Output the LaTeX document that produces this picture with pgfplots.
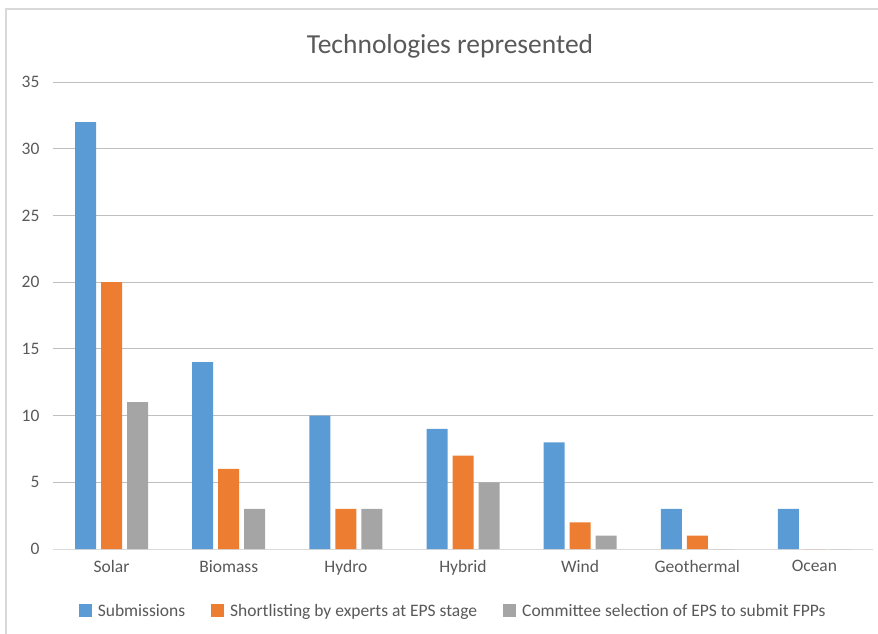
\documentclass[border=0pt]{standalone}
\usepackage{pgfplots}
\pgfplotsset{compat=1.18}
\usepackage{fontspec}
\setmainfont{Carlito}
\definecolor{cblue}{HTML}{5B9BD5}
\definecolor{corange}{HTML}{ED7D31}
\definecolor{cgray}{HTML}{A5A5A5}
\definecolor{grid}{HTML}{D9D9D9}
\definecolor{txt}{HTML}{595959}
\begin{document}
\begin{tikzpicture}
\path[use as bounding box] (-53pt,-84pt) rectangle (825pt,549pt);
\draw[grid, line width=1.2pt] (-47pt,-90pt) -- (-47pt,540pt) -- (830pt,540pt);
\begin{axis}[
    at={(0pt,0pt)}, anchor=south west,
    scale only axis,
    width=820pt, height=467pt,
    ybar=5pt,
    bar width=21pt,
    xmin=-0.5, xmax=6.5,
    ymin=0, ymax=35,
    ytick={0,5,...,35},
    xtick=data,
    xticklabels={Solar,Biomass,Hydro,Hybrid,Wind,Geothermal,Ocean},
    axis x line*=bottom,
    axis y line*=left,
    y axis line style={draw=none},
    x axis line style={grid, line width=1pt, -},
    major tick length=0pt,
    xmajorgrids=false,
    ymajorgrids=true,
    grid style={grid, line width=1pt},
    tick label style={font=\fontsize{17.5}{20}\selectfont, text=txt},
    yticklabel style={xshift=-10pt},
    xticklabel style={yshift=-8pt},
    /pgf/number format/assume math mode=true,
    title={Technologies represented},
    title style={font=\fontsize{27.5}{32}\selectfont, text=txt, yshift=14pt, xshift=-13pt},
    legend columns=3,
    legend style={at={(0.488,-0.133)}, anchor=center, draw=none,
        font=\fontsize{17.5}{20}\selectfont, text=txt,
        /tikz/every even column/.append style={column sep=24pt}},
    legend image code/.code={\fill[#1] (0pt,-6pt) rectangle (13pt,7pt); \path (17pt,0pt);},
]
\addplot[fill=cblue, draw=none] coordinates {(0,32) (1,14) (2,10) (3,9) (4,8) (5,3) (6,3)};
\addplot[fill=corange, draw=none] coordinates {(0,20) (1,6) (2,3) (3,7) (4,2) (5,1) (6,0)};
\addplot[fill=cgray, draw=none] coordinates {(0,11) (1,3) (2,3) (3,5) (4,1) (5,0) (6,0)};
\legend{Submissions, Shortlisting by experts at EPS stage, Committee selection of EPS to submit FPPs}
\end{axis}
\end{tikzpicture}
\end{document}
